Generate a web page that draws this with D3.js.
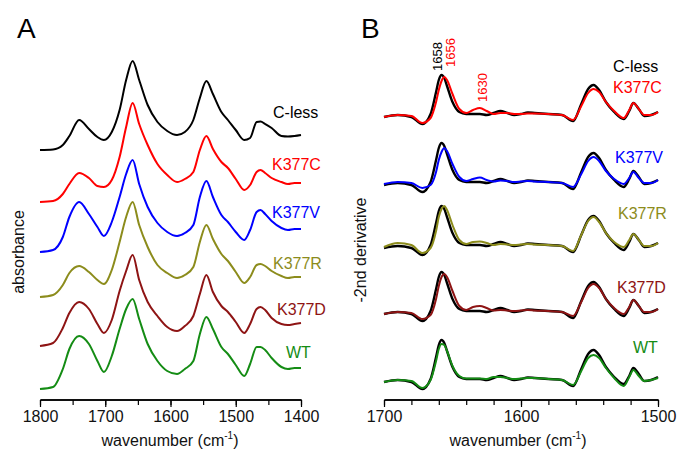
<!DOCTYPE html>
<html>
<head>
<meta charset="utf-8">
<script src="https://cdn.jsdelivr.net/npm/d3@7"></script>
<style>
    body { margin: 0; background: #fff; }
    svg text { font-family: "Liberation Sans", Arial, sans-serif; }
</style>
</head>
<body>
<svg width="681" height="450"></svg>
<script>
    // panel A: absorbance spectra (arbitrary units, relative to each trace's start)
    var wnA = [1800, 1780, 1765, 1755, 1740, 1725, 1712, 1702, 1690, 1678, 1668, 1658, 1648, 1635, 1620, 1605,
        1590, 1578, 1565, 1555, 1545, 1535, 1522, 1512, 1500, 1487, 1478, 1468, 1462, 1455, 1445, 1430, 1420, 1410, 1400];
    var absCless = [0, 0.5, 5, 14, 30, 21, 13, 10, 18, 40, 70, 89, 70, 45, 28, 19,
        15, 18, 30, 52, 69, 56, 38, 30, 20, 10, 12, 28, 28.5, 26, 22, 14, 13.5, 14, 15];
    var absK377C = [0, 1, 8, 18, 29, 24, 16, 15, 22, 45, 75, 99, 78, 57, 38, 27,
        20, 23, 30, 52, 66, 53, 40, 34, 23, 12, 17, 30, 32, 29, 24, 20, 18, 19, 19];
    var absK377V = [0, 2, 15, 35, 50, 38, 25, 16, 30, 55, 78, 92, 68, 45, 29, 20,
        16, 19, 27, 55, 71, 55, 37, 30, 20, 12, 22, 40, 42, 38, 31, 24, 22, 23, 23];
    var absK377R = [0, 2, 12, 24, 31, 25, 17, 13, 27, 55, 80, 95, 72, 50, 32, 24,
        19, 22, 30, 55, 72, 58, 43, 36, 25, 14, 20, 32, 33, 31, 26, 21, 19, 20, 20];
    var absK377D = [0, 3, 18, 33, 44, 37, 22, 13, 26, 55, 75, 91, 66, 44, 30, 19,
        15, 20, 30, 52, 71, 54, 40, 34, 24, 13, 22, 37, 39, 36, 28, 22, 21, 22, 23];
    var absWT = [0, 2, 20, 40, 53, 45, 28, 17, 33, 60, 80, 90, 70, 45, 28, 18,
        15, 20, 28, 55, 72, 60, 42, 35, 24, 13, 25, 42, 42, 39, 31, 22, 20, 21, 21];
    var offsetsA = [250, 198, 148, 103, 54, 11];

    // panel B: -2nd derivative (arbitrary units)
    var wnB = [1700, 1690, 1680, 1672, 1666, 1662, 1660, 1658, 1656, 1654, 1650, 1645, 1640, 1635, 1630, 1625,
        1620, 1615, 1610, 1605, 1600, 1595, 1590, 1580, 1570, 1562, 1556, 1551, 1547, 1543, 1538, 1532,
        1525, 1521, 1518, 1514, 1510, 1505, 1500];
    var d2Cless = [-3, -1, -3, -10, 0, 22, 34, 39, 36, 28, 12, 2, 0, 0, 0, -1,
        1, 3, 1, -1, 0, 1.5, 1, 0, -1, -7, 10, 25, 29, 24, 12, 2,
        -5, 3, 11, 5, -2, -1, 2];
    var d2K377C = [-3, -1, -2, -9, -4, 12, 24, 33, 37, 34, 20, 5, 1, 4, 6, 3,
        0, 1, 1, 0, 0, 0.5, 0.5, 0, -1, -6, 8, 21, 25, 22, 12, 3,
        -4, 4, 11, 5, -1, -1, 2];
    var d2K377V = [-2, 0, -1, -6, -3, 10, 22, 30, 34, 31, 18, 5, 1, 3, 4.5, 2,
        0.5, 1.5, 1, 0, 0.5, 1, 0.5, 0, -1, -5, 8, 21, 25, 21, 11, 3,
        -2, 4, 10, 4, -1, -1, 2];
    var d2K377R = [-2, 2, 0, -8, -3, 14, 28, 36, 39, 35, 20, 5, 1, 3, 3.5, 2,
        0, 1, 0.5, 0, 0.5, 1, 0.5, 0, -1, -6, 10, 24, 28, 23, 12, 3,
        -2, 5, 11, 5, -1, -1, 2];
    var d2K377D = [-3, -1, -2, -8, -4, 12, 25, 34, 37, 34, 20, 5, 1, 4, 5, 3,
        0.5, 1, 0.5, 0, 0.5, 1, 0.5, 0, -1, -5, 9, 23, 27, 23, 12, 3,
        -3, 4, 11, 5, -1, -1, 2];
    var d2WT = [-3, -1, -2, -9, -1, 18, 30, 35, 34, 28, 13, 3, 0.5, 0.5, 0.5, 0,
        2, 2, 1, 0, 0.5, 1, 1, 0, -1, -6, 8, 21, 24, 21, 11, 1,
        -7, 2, 9, 3, -2, -1, 1];
    var offsetsB = [286, 218, 155, 89, 21];

    var names = ["C-less", "K377C", "K377V", "K377R", "K377D", "WT"];
    var colors = ["#000000", "#ff0000", "#0000ff", "#8c8c1c", "#8e1414", "#148c14"];
    var ticksA = [1800, 1700, 1600, 1500, 1400];
    var ticksB = [1700, 1600, 1500];
    // peak labels: text, colour, label position (wavenumber), bottom of label (data units)
    var peakLabels = [["1658", "#000", 1657.7, 329], ["1656", "#ff0000", 1648, 333], ["1630", "#ff0000", 1625, 298]];

    var svg = d3.select("svg");

    var xA = d3.scaleLinear().domain([1800, 1400]).range([40, 301]),
        xB = d3.scaleLinear().domain([1700, 1500]).range([384, 658]),
        y = d3.scaleLinear().domain([0, 350]).range([400, 50]);

    function line(x, wn, vals, off) {
        return d3.line()
            .curve(d3.curveMonotoneX)
            .x(function(d, i) { return x(wn[i]); })
            .y(function(d) { return y(d + off); })(vals);
    }

    // panel A traces
    var absSets = [absCless, absK377C, absK377V, absK377R, absK377D, absWT];
    var labelA = [[273, 118], [272, 170], [272, 218], [273, 269], [277, 315], [286, 358]];
    absSets.forEach(function(vals, i) {
        svg.append("path")
            .attr("d", line(xA, wnA, vals, offsetsA[i]))
            .attr("fill", "none")
            .attr("stroke", colors[i])
            .attr("stroke-width", 2);
        svg.append("text")
            .attr("x", labelA[i][0])
            .attr("y", labelA[i][1])
            .attr("fill", colors[i])
            .style("font-size", "16px")
            .text(names[i]);
    });

    // panel B traces: C-less in black under each mutant
    var d2Sets = [d2K377C, d2K377V, d2K377R, d2K377D, d2WT];
    d2Sets.forEach(function(vals, i) {
        svg.append("path")
            .attr("d", line(xB, wnB, d2Cless, offsetsB[i]))
            .attr("fill", "none")
            .attr("stroke", "#000")
            .attr("stroke-width", 2.4);
        svg.append("path")
            .attr("d", line(xB, wnB, vals, offsetsB[i]))
            .attr("fill", "none")
            .attr("stroke", colors[i + 1])
            .attr("stroke-width", 2);
    });

    var labelB = [[613, 72, 0], [613, 93, 1], [615, 163, 2], [618, 219, 3], [617, 293, 4], [633, 353, 5]];
    labelB.forEach(function(l) {
        svg.append("text")
            .attr("x", l[0])
            .attr("y", l[1])
            .attr("fill", colors[l[2]])
            .style("font-size", "16px")
            .text(names[l[2]]);
    });

    // peak annotations (rotated, glyphs extend left of the baseline)
    peakLabels.forEach(function(p) {
        svg.append("text")
            .attr("transform", "translate(" + xB(p[2]) + "," + y(p[3]) + ") rotate(-90)")
            .attr("fill", p[1])
            .style("font-size", "13px")
            .text(p[0]);
    });

    // axes
    svg.append("g")
        .attr("transform", "translate(0,400)")
        .call(d3.axisBottom(xA).tickValues(d3.range(1800, 1399, -50)).tickSize(5).tickFormat(""));
    svg.append("g")
        .attr("transform", "translate(0,400)")
        .call(d3.axisBottom(xA).tickValues(ticksA).tickSize(7).tickPadding(4).tickFormat(d3.format("d")));
    svg.append("g")
        .attr("transform", "translate(0,400)")
        .call(d3.axisBottom(xB).tickValues(d3.range(1700, 1499, -20)).tickSize(5).tickFormat(""));
    svg.append("g")
        .attr("transform", "translate(0,400)")
        .call(d3.axisBottom(xB).tickValues(ticksB).tickSize(7).tickPadding(4).tickFormat(d3.format("d")));

    svg.selectAll(".domain").attr("stroke", "#000").attr("stroke-width", 1.5).attr("d", function() {
        var d = d3.select(this).attr("d");
        return d.replace(/V\d+(\.\d+)?/g, "").replace(/^M([\d.]+),\d+(\.\d+)?/, "M$1,0");
    });
    svg.selectAll(".tick line").attr("stroke", "#000").attr("stroke-width", 1.2);
    svg.selectAll(".tick text")
        .style("font-family", "'Liberation Sans', Arial, sans-serif")
        .style("font-size", "16px")
        .attr("fill", "#111");

    // axis titles
    [[170, xA], [518, xB]].forEach(function(a) {
        var t = svg.append("text")
            .attr("x", a[0])
            .attr("y", 446)
            .attr("text-anchor", "middle")
            .style("font-size", "16px")
            .attr("fill", "#111");
        t.append("tspan").text("wavenumber (cm");
        t.append("tspan").attr("dy", -7).style("font-size", "10px").text("-1");
        t.append("tspan").attr("dy", 7).text(")");
    });

    svg.append("text")
        .attr("transform", "translate(24,252) rotate(-90)")
        .attr("text-anchor", "middle")
        .style("font-size", "16px")
        .attr("fill", "#111")
        .text("absorbance");
    svg.append("text")
        .attr("transform", "translate(366,250) rotate(-90)")
        .attr("text-anchor", "middle")
        .style("font-size", "16px")
        .attr("fill", "#111")
        .text("-2nd derivative");

    svg.append("text").attr("x", 17).attr("y", 38).style("font-size", "28px").text("A");
    svg.append("text").attr("x", 361).attr("y", 38).style("font-size", "28px").text("B");
</script>
</body>
</html>
